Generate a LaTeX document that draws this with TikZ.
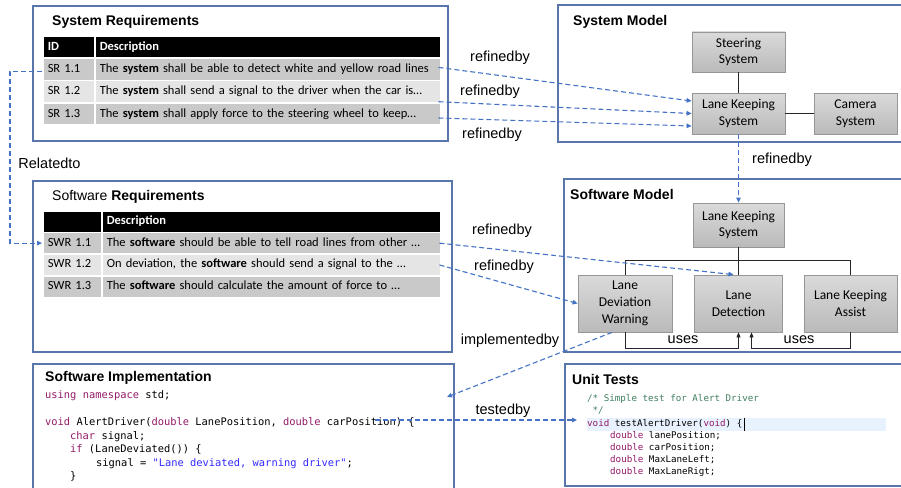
\documentclass[tikz,border=0pt]{standalone}
\usepackage{fontspec}
\setmainfont{Liberation Sans}
\newfontfamily\calfont{Carlito}
\newfontfamily\codefont{DejaVu Sans Mono}
\usetikzlibrary{arrows.meta,calc}
\definecolor{boxblue}{RGB}{88,118,172}
\definecolor{dashblue}{RGB}{68,114,196}
\definecolor{rowdark}{RGB}{201,201,201}
\definecolor{rowlight}{RGB}{229,229,229}
\definecolor{gtop}{RGB}{218,218,218}
\definecolor{gbot}{RGB}{186,186,186}
\definecolor{boxgrey}{RGB}{150,150,150}
\definecolor{kw}{RGB}{147,26,104}
\definecolor{strc}{RGB}{50,40,255}
\definecolor{cmt}{RGB}{63,127,95}
\definecolor{hl}{RGB}{232,242,254}
\begin{document}
\begin{tikzpicture}[x=1pt,y=-1pt,
  panel/.style={draw=boxblue, line width=1.3pt},
  title/.style={anchor=west, inner sep=0, font=\bfseries\fontsize{14}{16}\selectfont},
  hdr/.style={anchor=north west, fill=black, draw=white, line width=1.5pt, inner xsep=5pt, inner ysep=0pt, minimum height=21.5, text=white, align=left, font=\calfont\bfseries\fontsize{12.5}{15}\selectfont, text height=9, text depth=3},
  cell/.style={anchor=north west, draw=white, line width=1.5pt, inner xsep=5pt, inner ysep=0pt, align=left, font=\calfont\fontsize{12.5}{15}\selectfont, text height=9, text depth=3},
  gbox/.style={draw=boxgrey, line width=0.8pt, top color=gtop, bottom color=gbot, align=center, inner sep=0, font=\calfont\fontsize{13.5}{16.7}\selectfont},
  link/.style={draw=dashblue, line width=1.1pt, dash pattern=on 5pt off 3pt, -{Triangle[length=5pt,width=4.5pt]}},
  plain/.style={draw=black!85, line width=0.8pt},
  uses/.style={plain, -{Triangle[length=5pt,width=4pt]}},
  lbl/.style={inner sep=0, font=\fontsize{14.5}{17}\selectfont},
  code/.style={anchor=west, inner sep=0, font=\codefont\fontsize{10.4}{12}\selectfont, text height=7.5, text depth=2.5},
  ucode/.style={anchor=west, inner sep=0, font=\codefont\fontsize{9.2}{11}\selectfont, text height=7, text depth=2.3}
]
\useasboundingbox (0,0) rectangle (901,487);
\clip (0,0) rectangle (901,487);
\fill[white] (0,0) rectangle (901,487);

% panels
\draw[panel] (33,6) rectangle (448,141);
\draw[panel] (558,5) rectangle (910,142);
\draw[panel] (33,181) rectangle (452,352);
\draw[panel] (564,179) rectangle (910,352);
\draw[panel] (33,364) rectangle (454,500);
\draw[panel] (565,364) rectangle (910,486);

% titles
\node[title] (t1) at (52,22) {System Requirements};
\node[title] (t2) at (573,22) {System Model};
\node[title] (t3) at (52,197) {\mdseries Software \bfseries Requirements};
\node[title] (t4) at (570,194) {Software Model};
\node[title] (t5) at (45,378) {Software Implementation};
\node[title] (t6) at (572,379) {Unit Tests};

% System requirements table
\node[hdr, text width=42] (srh1) at (42,36) {ID};
\node[hdr, text width=336] (srh2) at (94,36) {Description};
\node[cell, fill=rowdark, text width=42, minimum height=22.3] (sr1id) at (42,57.5) {SR 1.1};
\node[cell, fill=rowdark, text width=336, minimum height=22.3] (sr1d) at (94,57.5) {\mbox{The \textbf{system} shall be able to detect white and yellow road lines}};
\node[cell, fill=rowlight, text width=42, minimum height=22.3] (sr2id) at (42,79.8) {SR 1.2};
\node[cell, fill=rowlight, text width=336, minimum height=22.3] (sr2d) at (94,79.8) {\mbox{The \textbf{system} shall send a signal to the driver when the car is…}};
\node[cell, fill=rowdark, text width=42, minimum height=22.3] (sr3id) at (42,102.1) {SR 1.3};
\node[cell, fill=rowdark, text width=336, minimum height=22.3] (sr3d) at (94,102.1) {\mbox{The \textbf{system} shall apply force to the steering wheel to keep…}};

% Software requirements table
\node[hdr, text width=49] (swh1) at (42,210) {};
\node[hdr, text width=329] (swh2) at (101,210) {Description};
\node[cell, fill=rowdark, text width=49, minimum height=21.8] (swr1id) at (42,231.5) {SWR 1.1};
\node[cell, fill=rowdark, text width=329, minimum height=21.8] (swr1d) at (101,231.5) {\mbox{The \textbf{software} should be able to tell road lines from other …}};
\node[cell, fill=rowlight, text width=49, minimum height=21.8] (swr2id) at (42,253.3) {SWR 1.2};
\node[cell, fill=rowlight, text width=329, minimum height=21.8] (swr2d) at (101,253.3) {\mbox{On deviation, the \textbf{software} should send a signal to the …}};
\node[cell, fill=rowdark, text width=49, minimum height=21.8] (swr3id) at (42,275.1) {SWR 1.3};
\node[cell, fill=rowdark, text width=329, minimum height=21.8] (swr3d) at (101,275.1) {\mbox{The \textbf{software} should calculate the amount of force to …}};

% System model boxes
\node[gbox, minimum width=93, minimum height=40] (steer) at (738.5,52) {Steering\\System};
\node[gbox, minimum width=93, minimum height=41] (lks) at (738.5,113.5) {Lane Keeping\\System};
\node[gbox, minimum width=83, minimum height=41] (cam) at (855.5,113.5) {Camera\\System};
\draw[plain] (steer) -- (lks);
\draw[plain] (lks) -- (cam);

% Software model boxes
\node[gbox, minimum width=91, minimum height=44] (slks) at (738.5,225) {Lane Keeping\\System};
\node[gbox, minimum width=94, minimum height=57] (ldw) at (625,303.5) {Lane\\Deviation\\Warning};
\node[gbox, minimum width=88, minimum height=57] (ld) at (738.5,303.5) {Lane\\Detection};
\node[gbox, minimum width=93, minimum height=57] (lka) at (850.5,303.5) {Lane Keeping\\Assist};
\coordinate (tj) at (738.5,260);
\draw[plain] (slks.south) -- (ld.north);
\draw[plain] (ldw.north) -- (ldw.north |- tj) -- (lka.north |- tj) -- (lka.north);
\draw[uses] (ldw.south) -- ++(0,16) -| (ld.south);
\draw[uses] (lka.south) -- ++(0,16) -| ($(ld.south)+(13,0)$);
\node[lbl] (u1) at (683,340) {uses};
\node[lbl] (u2) at (799,340) {uses};

% Software implementation code
\node[code] (si1) at (45,396) {\textcolor{kw}{using namespace} std;};
\node[code] (si2) at (45,423) {\textcolor{kw}{void} AlertDriver(\textcolor{kw}{double} LanePosition, \textcolor{kw}{double} carPosition) \{};
\node[code] (si3) at (70,436.5) {\textcolor{kw}{char} signal;};
\node[code] (si4) at (70,450) {\textcolor{kw}{if} (LaneDeviated()) \{};
\node[code] (si5) at (96,463.5) {signal = \textcolor{strc}{"Lane deviated, warning driver"};};
\node[code] (si6) at (70,477) {\}};

% Unit test code
\fill[hl] (587,418) rectangle (886,430.5);
\node[ucode] (ut1) at (587,399) {\textcolor{cmt}{/* Simple test for Alert Driver}};
\node[ucode] (ut2) at (592.5,411.5) {\textcolor{cmt}{*/}};
\node[ucode] (ut3) at (587,424) {\textcolor{kw}{void} testAlertDriver(\textcolor{kw}{void}) \{};
\node[ucode] (ut4) at (610,436) {\textcolor{kw}{double} lanePosition;};
\node[ucode] (ut5) at (610,448) {\textcolor{kw}{double} carPosition;};
\node[ucode] (ut6) at (610,460) {\textcolor{kw}{double} MaxLaneLeft;};
\node[ucode] (ut7) at (610,472) {\textcolor{kw}{double} MaxLaneRigt;};
\draw[line width=0.9pt] ($(ut3.east)+(2,-6.5)$) -- ++(0,13);

% connectors
\draw[link] ($(sr1d.east)+(-3,-2)$) -- ($(lks.west)+(0,-12.5)$);
\draw[link] ($(sr2d.east)+(-3,10)$) -- (lks.west);
\draw[link] ($(sr3d.east)+(-3,4)$) -- ($(lks.west)+(0,12.5)$);
\draw[link] (lks.south) -- (slks.north);
\draw[link] ($(sr1id.west)+(0,2)$) -- ++(-32,0) |- (swr1id.west);
\draw[link] ($(swr1d.east)+(-2,0)$) -- ($(ld.north)+(-5,0)$);
\draw[link] ($(swr2d.east)+(-2,0)$) -- (ldw.west);
\coordinate (siin) at (447,397);
\draw[link] ($(ldw.south)+(-13,0)$) -- (siin);
\coordinate (tbs) at (375,420);
\coordinate (tbe) at (577,420);
\draw[link] (tbs) -- (tbe);

% labels
\node[lbl] (l1) at (500,58) {refinedby};
\node[lbl] (l2) at (490,92) {refinedby};
\node[lbl] (l3) at (492,135) {refinedby};
\node[lbl] (l4) at (782,160) {refinedby};
\node[lbl] (l5) at (49.5,163) {Relatedto};
\node[lbl] (l6) at (502,231) {refinedby};
\node[lbl] (l7) at (504,267) {refinedby};
\node[lbl] (l8) at (510,341) {implementedby};
\node[lbl] (l9) at (503,411) {testedby};
\end{tikzpicture}
\end{document}
